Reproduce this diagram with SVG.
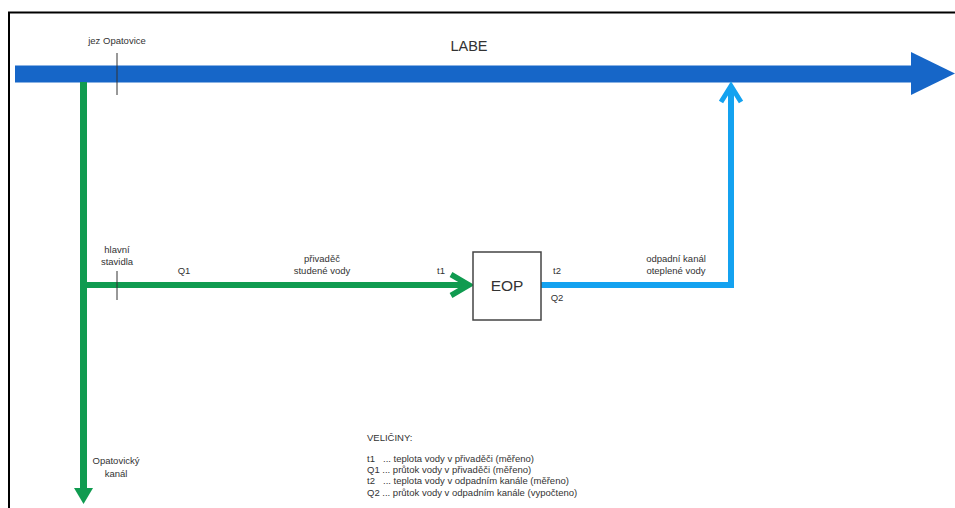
<svg xmlns="http://www.w3.org/2000/svg" width="955" height="508" viewBox="0 0 955 508">
<style>
text{font-family:"Liberation Sans",Arial,sans-serif;fill:#333;}
.s{font-size:9.5px;}
.m{text-anchor:middle;}
.tick{stroke:#333;stroke-width:1;}
</style>
<rect width="955" height="508" fill="#fff"/>
<path d="M9 508 V12.5 H955" fill="none" stroke="#000" stroke-width="2"/>
<g id="connectors">
  <g id="labe">
    <rect x="15" y="65.5" width="898" height="17" fill="#1666c8"/>
    <polygon points="911,52 955,73.5 911,95" fill="#1666c8"/>
  </g>
  <g id="opatovicky-kanal-line">
    <line x1="83.5" y1="82" x2="83.5" y2="492" stroke="#109b50" stroke-width="7"/>
    <polygon points="74,488 93,488 83.5,504" fill="#109b50"/>
  </g>
  <g id="privadec">
    <line x1="80" y1="285" x2="468" y2="285" stroke="#109b50" stroke-width="6"/>
    <polyline points="451,274.5 469,285 451,295.5" fill="none" stroke="#109b50" stroke-width="5.5"/>
  </g>
  <g id="odpadni-kanal">
    <polyline points="541,285 731,285 731,86" fill="none" stroke="#14a2f0" stroke-width="6"/>
    <polyline points="721,102 731,86 741,102" fill="none" stroke="#14a2f0" stroke-width="5"/>
  </g>
  <line class="tick" x1="117" y1="53" x2="117" y2="95"/>
  <line class="tick" x1="117" y1="271" x2="117" y2="300"/>
</g>
<g id="node-eop">
  <rect x="473" y="252" width="68" height="68" fill="#fff" stroke="#444" stroke-width="1.5"/>
  <text x="507" y="291" class="m" font-size="15.5">EOP</text>
</g>
<g id="labels">
  <text x="469" y="51" class="m" font-size="14.5">LABE</text>
  <text x="117" y="44" class="s m">jez Opatovice</text>
  <text x="117" y="253" class="s m">hlavní</text>
  <text x="117" y="265" class="s m">stavidla</text>
  <text x="184" y="274" class="s m">Q1</text>
  <text x="322" y="262" class="s m">přivaděč</text>
  <text x="322" y="274" class="s m">studené vody</text>
  <text x="441" y="274" class="s m">t1</text>
  <text x="557" y="274" class="s m">t2</text>
  <text x="557" y="301" class="s m">Q2</text>
  <text x="676" y="262" class="s m">odpadní kanál</text>
  <text x="676" y="274" class="s m">oteplené vody</text>
  <text x="116" y="464" class="s m">Opatovický</text>
  <text x="116" y="477" class="s m">kanál</text>
</g>
<g id="legend" class="s">
  <text x="367" y="441">VELIČINY:</text>
  <text x="367" y="462">t1<tspan x="383">... teplota vody v přivaděči (měřeno)</tspan></text>
  <text x="367" y="473">Q1 ... průtok vody v přivaděči (měřeno)</text>
  <text x="367" y="484">t2<tspan x="383">... teplota vody v odpadním kanále (měřeno)</tspan></text>
  <text x="367" y="496">Q2 ... průtok vody v odpadním kanále (vypočteno)</text>
</g>
</svg>
